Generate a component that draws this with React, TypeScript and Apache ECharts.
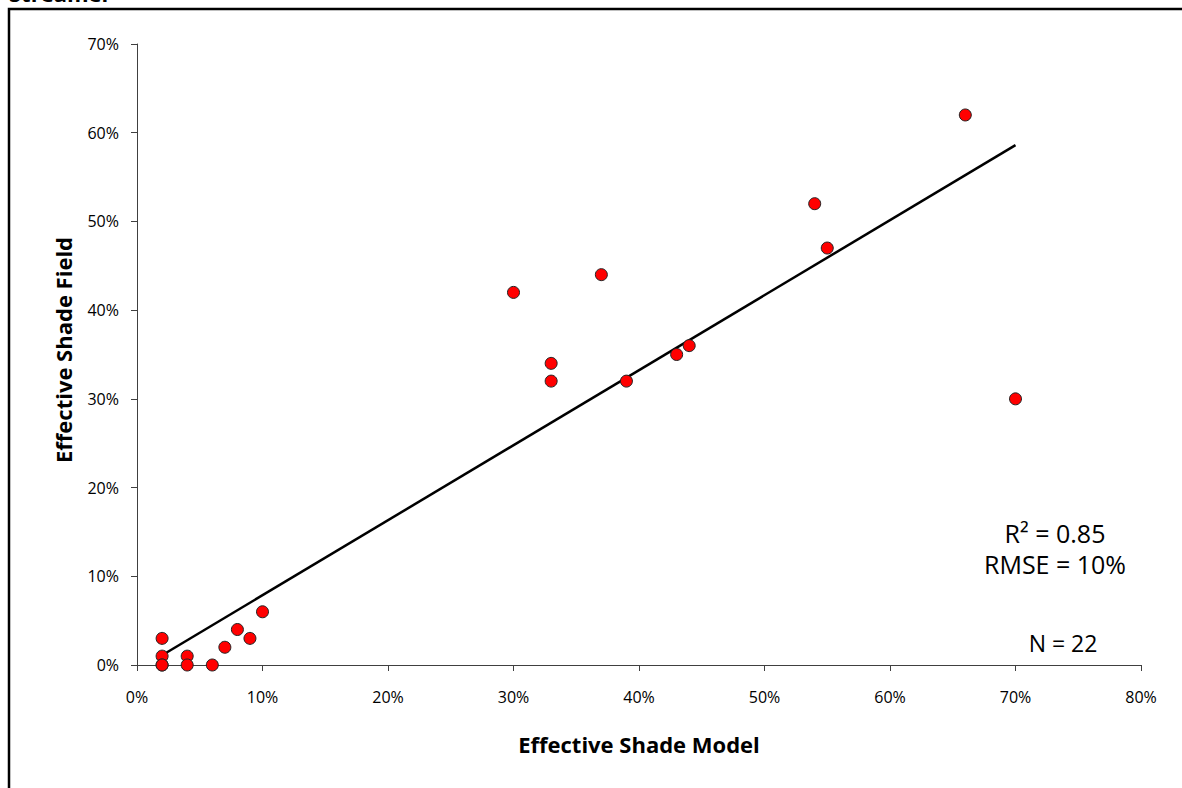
import React, { useEffect, useRef } from "react";
import * as echarts from "echarts";

const pointsX = [2, 2, 2, 2, 4, 4, 6, 7, 8, 9, 10, 30, 33, 33, 37, 39, 43, 44, 54, 55, 66, 70];
const pointsY = [3, 1, 0, 0, 1, 0, 0, 2, 4, 3, 6, 42, 34, 32, 44, 32, 35, 36, 52, 47, 62, 30];
const trendX = [2, 70];
const trendY = [1.1, 58.6];
const xTicks = [0, 10, 20, 30, 40, 50, 60, 70, 80];
const yTicks = [0, 10, 20, 30, 40, 50, 60, 70];
const chartTitle = "Streamer";
const xTitle = "Effective Shade Model";
const yTitle = "Effective Shade Field";
const statsLines = ["R² = 0.85", "RMSE = 10%"];
const nLabel = "N = 22";

const FONT = "'Open Sans'";

export default function App() {
  const ref = useRef<HTMLDivElement>(null);
  useEffect(() => {
    if (!ref.current) return;
    const chart = echarts.init(ref.current, undefined, { renderer: "svg" });
    const scatterData = pointsX.map((x, i) => [x, pointsY[i]]);
    const trendData = trendX.map((x, i) => [x, trendY[i]]);
    chart.setOption({
      animation: false,
      backgroundColor: "#ffffff",
      grid: { left: 137, top: 44, right: 41, bottom: 123, containLabel: false },
      xAxis: {
        type: "value",
        min: xTicks[0],
        max: xTicks[xTicks.length - 1],
        interval: 10,
        splitLine: { show: false },
        axisLine: { lineStyle: { color: "#404040", width: 1 } },
        axisTick: { show: true, inside: false, length: 6, lineStyle: { color: "#404040" } },
        axisLabel: { formatter: "{value}%", margin: 24, fontFamily: FONT, fontSize: 16, color: "#000" },
      },
      yAxis: {
        type: "value",
        min: yTicks[0],
        max: yTicks[yTicks.length - 1],
        interval: 10,
        splitLine: { show: false },
        axisLine: { show: true, lineStyle: { color: "#404040", width: 1 } },
        axisTick: { show: true, inside: false, length: 6, lineStyle: { color: "#404040" } },
        axisLabel: { formatter: "{value}%", margin: 18, fontFamily: FONT, fontSize: 16, color: "#000" },
      },
      series: [
        {
          type: "line",
          data: trendData,
          symbol: "none",
          lineStyle: { color: "#000", width: 2.5 },
          z: 2,
        },
        {
          type: "scatter",
          data: scatterData,
          symbol: "circle",
          symbolSize: 12,
          itemStyle: { color: "#ff0000", borderColor: "#222", borderWidth: 1, opacity: 1 },
          z: 3,
        },
      ],
      graphic: [
        {
          type: "rect",
          shape: { x: 9, y: 9, width: 1400, height: 1000 },
          style: { fill: "none", stroke: "#000", lineWidth: 2.5 },
          silent: true,
        },
        {
          type: "text",
          x: 9,
          y: -7,
          style: {
            text: chartTitle,
            fontFamily: FONT,
            fontWeight: "bold",
            fontSize: 22,
            fill: "#000",
            verticalAlign: "middle",
            align: "left",
          },
        },
        {
          type: "text",
          x: 63,
          y: 350,
          rotation: Math.PI / 2,
          style: {
            text: yTitle,
            fontFamily: FONT,
            fontWeight: "bold",
            fontSize: 22,
            fill: "#000",
            align: "center",
            verticalAlign: "middle",
          },
        },
        {
          type: "text",
          x: 639,
          y: 744,
          style: {
            text: xTitle,
            fontFamily: FONT,
            fontWeight: "bold",
            fontSize: 22,
            fill: "#000",
            align: "center",
            verticalAlign: "middle",
          },
        },
        {
          type: "text",
          x: 1055,
          y: 548,
          style: {
            text: statsLines.join("\n"),
            fontFamily: FONT,
            fontSize: 25,
            lineHeight: 31,
            fill: "#000",
            align: "center",
            verticalAlign: "middle",
          },
        },
        {
          type: "text",
          x: 1063,
          y: 643,
          style: {
            text: nLabel,
            fontFamily: FONT,
            fontSize: 23,
            fill: "#000",
            align: "center",
            verticalAlign: "middle",
          },
        },
      ],
    });
    return () => chart.dispose();
  }, []);
  return (
    <div
      ref={ref}
      style={{ position: "absolute", left: 0, top: 0, width: 1182, height: 788 }}
    />
  );
}
